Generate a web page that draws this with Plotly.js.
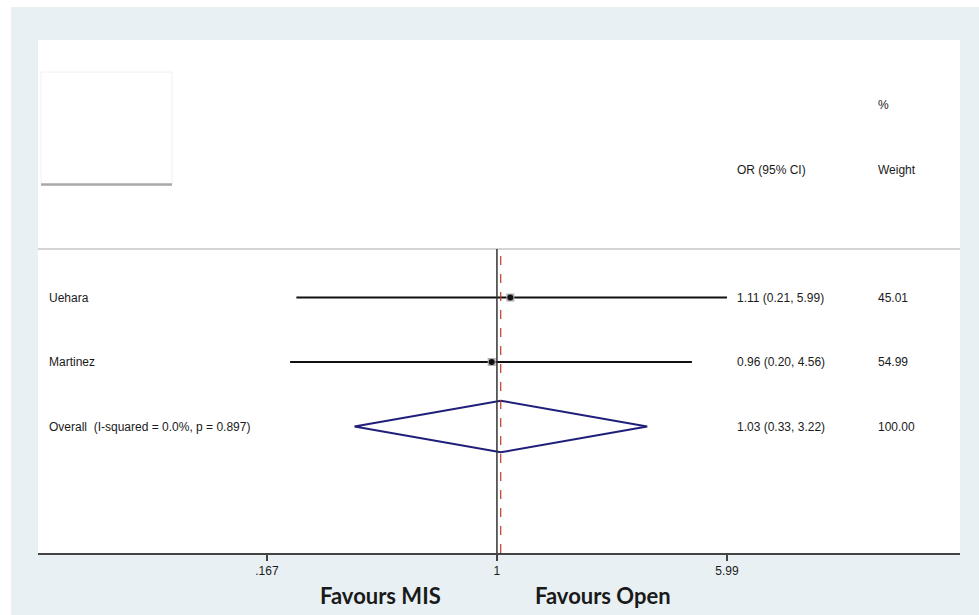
<!DOCTYPE html>
<html>
<head>
<meta charset="utf-8">
<script src="https://cdn.plot.ly/plotly-3.0.1.min.js"></script>
<style>
html,body{margin:0;padding:0;background:#ffffff;}
#chart{position:absolute;left:11px;top:7px;width:968px;height:608px;}
</style>
</head>
<body>
<div id="chart"></div>
<script>
// ---- data ----
const studies = ["Uehara", "Martinez"];
const orVals = [1.11, 0.96];
const ciLow = [0.21, 0.20];
const ciHigh = [5.99, 4.56];
const weights = ["45.01", "54.99"];
const orText = ["1.11 (0.21, 5.99)", "0.96 (0.20, 4.56)"];
const overallLabel = "Overall  (I-squared = 0.0%, p = 0.897)";
const overallOR = 1.03;
const overallLow = 0.33;
const overallHigh = 3.22;
const overallText = "1.03 (0.33, 3.22)";
const overallWeight = "100.00";
const tickVals = [0.167, 1, 5.99];
const tickText = [".167", "1", "5.99"];
const favLeft = "Favours MIS";
const favRight = "Favours Open";

// ---- layout helpers ----
const rows = studies.map((_, i) => i + 1);
const overallRow = studies.length + 1;
const txtFont = {family: "Liberation Sans, Arial, sans-serif", size: 12, color: "#1a1a1a"};

const traces = [];
// CI lines
studies.forEach((s, i) => {
  traces.push({
    type: "scatter", mode: "lines",
    x: [ciLow[i], ciHigh[i]], y: [rows[i], rows[i]],
    line: {color: "#111", width: 2}, hoverinfo: "skip", showlegend: false
  });
});
// weight boxes
traces.push({
  type: "scatter", mode: "markers", x: orVals, y: rows,
  marker: {symbol: "square", size: 8, color: "#b0b0b0"},
  hoverinfo: "skip", showlegend: false
});
// point estimates
traces.push({
  type: "scatter", mode: "markers", x: orVals, y: rows,
  marker: {symbol: "circle", size: 6, color: "#111"},
  hoverinfo: "skip", showlegend: false
});
// diamond
const dh = 0.4;
traces.push({
  type: "scatter", mode: "lines",
  x: [overallLow, overallOR, overallHigh, overallOR, overallLow],
  y: [overallRow, overallRow - dh, overallRow, overallRow + dh, overallRow],
  line: {color: "#1f1f7a", width: 2}, hoverinfo: "skip", showlegend: false
});

const annotations = [];
function addText(text, xp, y, yref, font) {
  annotations.push({text: text, x: xp, xref: "paper", y: y, yref: yref || "y",
    xanchor: "left", yanchor: "middle", showarrow: false, font: font || txtFont});
}
const colLabel = 0.0098, colOR = 0.756, colW = 0.909;
studies.forEach((s, i) => {
  addText(s, colLabel, rows[i]);
  addText(orText[i], colOR, rows[i]);
  addText(weights[i], colW, rows[i]);
});
addText(overallLabel, colLabel, overallRow);
addText(overallText, colOR, overallRow);
addText(overallWeight, colW, overallRow);
addText("OR (95% CI)", colOR, -0.98);
addText("Weight", colW, -0.98);
addText("%", colW, -1.98);
const favFont = {family: "Lato, sans-serif", size: 22, color: "#1a1a1a"};
addText("<b>" + favLeft + "</b>", 0.3037, -0.0838, "paper", favFont);
addText("<b>" + favRight + "</b>", 0.537, -0.0838, "paper", favFont);

const headerLineY = 0.5926;
const shapes = [
  // header separator
  {type: "line", xref: "paper", yref: "paper", x0: 0, x1: 1, y0: headerLineY, y1: headerLineY,
   line: {color: "#d4d4d4", width: 2}, layer: "below"},
  // null line
  {type: "line", xref: "x", yref: "paper", x0: 1, x1: 1, y0: 0, y1: headerLineY,
   line: {color: "#333", width: 1.5}},
  // overall effect dashed line
  {type: "line", xref: "x", yref: "paper", x0: overallOR, x1: overallOR, y0: 0, y1: headerLineY,
   line: {color: "#c0392b", width: 1.2, dash: "dash"}},
  // small empty box top-left
  {type: "rect", xref: "paper", yref: "paper", x0: 0.0033, x1: 0.1453, y0: 0.7173, y1: 0.9376,
   line: {color: "#f0f0f0", width: 1}, fillcolor: "rgba(0,0,0,0)", layer: "below"},
  {type: "line", xref: "paper", yref: "paper", x0: 0.0033, x1: 0.1453, y0: 0.7183, y1: 0.7183,
   line: {color: "#a8a8a8", width: 2.5}}
];

const layout = {
  width: 968, height: 608,
  margin: {l: 27, r: 19, t: 33, b: 62},
  paper_bgcolor: "#e8f0f3",
  plot_bgcolor: "#ffffff",
  showlegend: false,
  xaxis: {
    type: "log", range: [-1.551, 1.565],
    tickmode: "array", tickvals: tickVals, ticktext: tickText,
    ticks: "outside", ticklen: 6, tickwidth: 1.5, tickcolor: "#444",
    tickfont: {family: "Liberation Sans, Arial, sans-serif", size: 12, color: "#1a1a1a"},
    showline: true, linecolor: "#444", linewidth: 2, mirror: false,
    showgrid: false, zeroline: false, fixedrange: true
  },
  yaxis: {
    range: [4.961, -2.992], showgrid: false, zeroline: false,
    showticklabels: false, showline: false, ticks: "", fixedrange: true
  },
  shapes: shapes,
  annotations: annotations
};

Plotly.newPlot("chart", traces, layout, {displayModeBar: false, staticPlot: true});
</script>
</body>
</html>
